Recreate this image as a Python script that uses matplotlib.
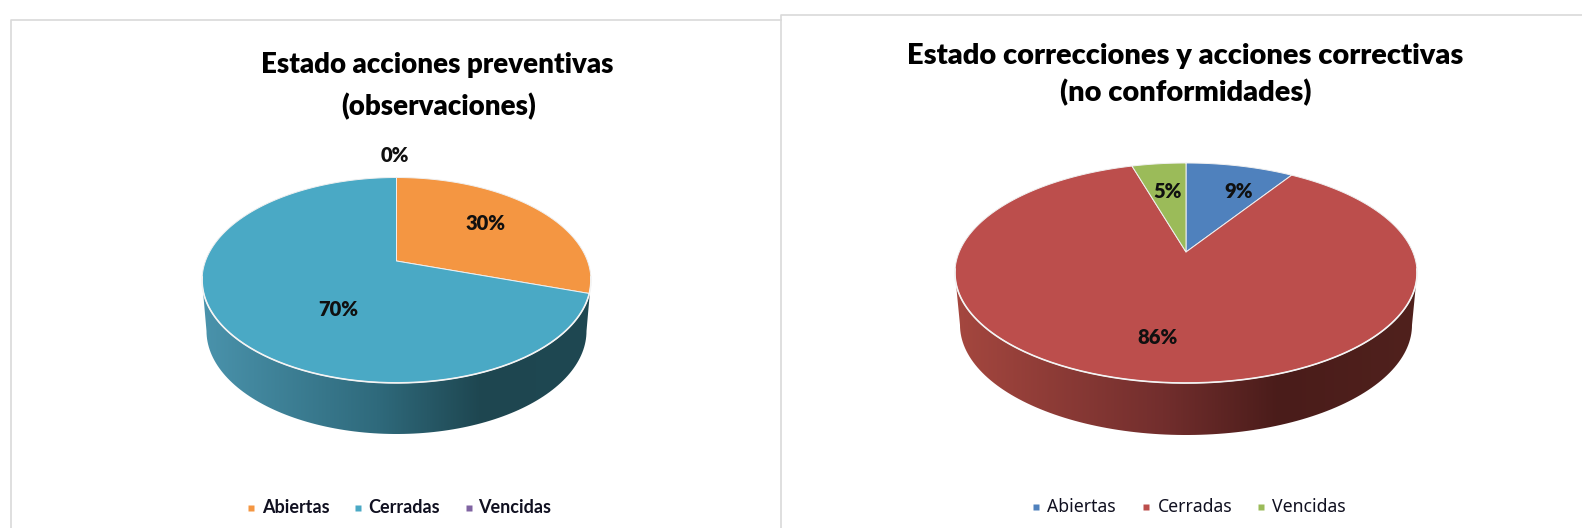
"""Two Excel style 3D pies: estado de acciones preventivas / correctivas."""
import numpy as np
import matplotlib
matplotlib.use("Agg")
import matplotlib.pyplot as plt
from matplotlib.colors import LinearSegmentedColormap
from matplotlib.patches import Polygon

CATEGORIES = ["Abiertas", "Cerradas", "Vencidas"]

TITLE_LEFT = ["Estado acciones preventivas", "(observaciones)"]
VALUES_LEFT = [3, 7, 0]
COLORS_LEFT = ["#F49642", "#4AA9C5", "#8064A2"]

TITLE_RIGHT = ["Estado correcciones y acciones correctivas", "(no conformidades)"]
VALUES_RIGHT = [2, 19, 1]
COLORS_RIGHT = ["#4F81BD", "#BC4E4C", "#9BBB59"]

NARROW = ["Lato", "DejaVu Sans"]
REGULAR = ["Noto Sans", "DejaVu Sans"]

W, H = 1582, 528
fig = plt.figure(figsize=(W / 100, H / 100), dpi=100, facecolor="white")
ax = fig.add_axes([0, 0, 1, 1])
ax.axis("off")


def rim(geom, theta):
    """Perspective projection of the unit circle, theta clockwise from 12 o'clock."""
    u, v = np.sin(theta), np.cos(theta)
    den = 1 + geom["persp"] * v
    return geom["cx"] + geom["dx"] * u / den, geom["cy"] - geom["dy"] * v / den


def draw_pie(geom, values, colors, wall_stops):
    # wall first, clipped gradient under the top face
    t = np.linspace(0, 2 * np.pi, 361)
    ex, ey = rim(geom, t)
    front = np.linspace(0.5 * np.pi, 1.5 * np.pi, 120)
    bx = geom["cx"] + geom["wall_rx"] * np.sin(front)
    by = geom["wall_cy"] - geom["wall_ry"] * np.cos(front)
    left, right = ex.argmin(), ex.argmax()
    outline = np.r_[[[ex[right], ey[right]]], np.c_[bx, by], [[ex[left], ey[left]]]]
    cmap = LinearSegmentedColormap.from_list("wall", wall_stops)
    img = ax.imshow(np.linspace(0, 1, 256)[None, :], cmap=cmap, aspect="auto",
                    extent=[ex.min(), ex.max(), by.max(), ey.min()], zorder=1)
    clip = Polygon(outline, closed=True, transform=ax.transData, fc="none", ec="none")
    ax.add_patch(clip)
    img.set_clip_path(clip)

    fracs = np.array(values, dtype=float) / sum(values)
    edges = np.r_[0, np.cumsum(fracs)] * 2 * np.pi
    apex = (geom["cx"], geom["cy"])
    for a, b, col in zip(edges[:-1], edges[1:], colors):
        if b <= a:
            continue
        x, y = rim(geom, np.linspace(a, b, 200))
        ax.add_patch(Polygon(np.r_[[apex], np.c_[x, y]], closed=True, fc=col,
                             ec="#f0f0f0", lw=0.7, joinstyle="round", zorder=2))
    # the lit lip along the front of the top face
    x, y = rim(geom, np.linspace(0.55 * np.pi, 1.45 * np.pi, 200))
    ax.plot(x, y, color="#f4f4f4", lw=1.2, zorder=3)


def draw_title(lines, xs, ys, size):
    for s, x, y in zip(lines, xs, ys):
        ax.text(x, y, s, family=NARROW, weight="heavy", fontsize=size, color="black",
                ha="center", va="center", zorder=5)


def draw_legend(colors, marker_x, marker_y, text_x, family, weight, size):
    for name, col, mx, tx in zip(CATEGORIES, colors, marker_x, text_x):
        ax.plot([mx], [marker_y], ls="none", marker="s", ms=4.4, mfc=col, mec="none", zorder=5)
        ax.text(tx, marker_y - 0.5, name, family=family, weight=weight, fontsize=size,
                color="#101020", ha="left", va="center", zorder=5)


# panels
BORDER = "#d9d9d9"
ax.plot([11, 11, 781], [528, 20, 20], color=BORDER, lw=1.2, zorder=0)
ax.plot([781, 781, 1582], [528, 14.5, 14.5], color=BORDER, lw=1.2, zorder=0)

GEOM_LEFT = dict(cx=396.5, cy=261, dx=191, dy=99.1, persp=0.187,
                 wall_rx=190, wall_cy=331, wall_ry=103)
GEOM_RIGHT = dict(cx=1186, cy=252, dx=226.8, dy=106, persp=0.191,
                  wall_rx=226, wall_cy=325, wall_ry=110)

draw_pie(GEOM_LEFT, VALUES_LEFT, COLORS_LEFT,
         [(0, "#4A93AC"), (0.45, "#2F6A7C"), (0.72, "#1E4650"), (1, "#1F4852")])
draw_pie(GEOM_RIGHT, VALUES_RIGHT, COLORS_RIGHT,
         [(0, "#A5473F"), (0.45, "#722E2D"), (0.70, "#4A1C1A"), (1, "#50211D")])

draw_title(TITLE_LEFT, [437, 439], [65, 107], 19.9)
draw_title(TITLE_RIGHT, [1185, 1186], [56, 93], 20.9)

# data labels
for v, x, y in zip(VALUES_LEFT, [486, 338, 395], [223, 310, 156]):
    ax.text(x, y, f"{100 * v / sum(VALUES_LEFT):.0f}%", family=NARROW, weight="heavy",
            fontsize=14.5, color="#101010", ha="center", va="center", zorder=5)
for v, x, y in zip(VALUES_RIGHT, [1239, 1157, 1168], [192, 338, 191]):
    ax.text(x, y, f"{100 * v / sum(VALUES_RIGHT):.0f}%", family=NARROW, weight="heavy",
            fontsize=14.5, color="#101010", ha="center", va="center", zorder=5)

draw_legend(COLORS_LEFT, [251, 358, 469], 508, [262, 368, 478], NARROW, "bold", 13)
draw_legend(COLORS_RIGHT, [1036, 1146, 1261], 507, [1047, 1158, 1272], REGULAR, "normal", 12.7)

ax.set_xlim(0, W)
ax.set_ylim(H, 0)
fig.savefig("out.png", dpi=100)
